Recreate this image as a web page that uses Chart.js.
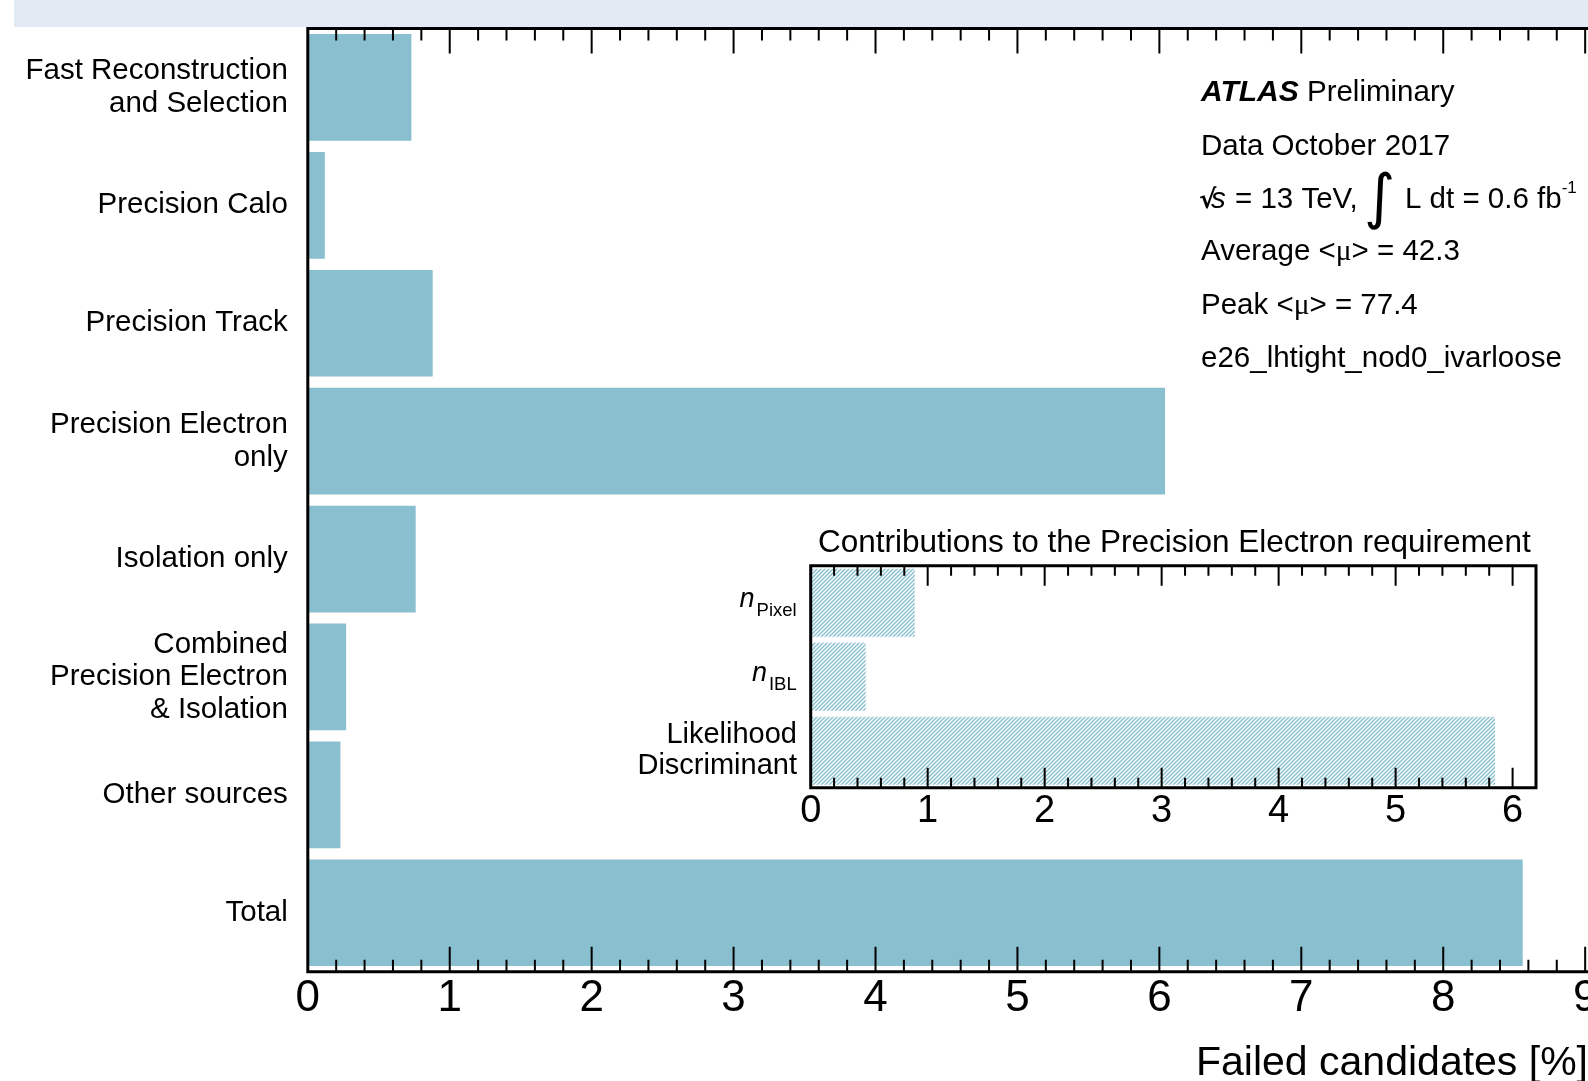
<!DOCTYPE html>
<html>
<head>
<meta charset="utf-8">
<title>Failed candidates</title>
<script src="https://cdn.jsdelivr.net/npm/chart.js@4.4.1/dist/chart.umd.min.js"></script>
<style>
  html, body { margin: 0; padding: 0; background: #fff; overflow: hidden; }
  #band { position: absolute; left: 14px; top: 0; width: 1574px; height: 27px; background: #e2eaf3; }
  #main { position: absolute; left: 0; top: 0; }
  #inset { position: absolute; left: 600px; top: 510px; }
</style>
</head>
<body>
<div id="band"></div>
<canvas id="main" width="1588" height="1081"></canvas>
<canvas id="inset" width="988" height="320"></canvas>
<script>
const categories = [
    ['Fast Reconstruction', 'and Selection'],
    'Precision Calo',
    'Precision Track',
    ['Precision Electron', 'only'],
    'Isolation only',
    ['Combined', 'Precision Electron', '& Isolation'],
    'Other sources',
    'Total',
];
const failedPct = [0.73, 0.12, 0.88, 6.04, 0.76, 0.27, 0.23, 8.56];

const insetCategories = ['nPixel', 'nIBL', ['Likelihood', 'Discriminant']];
const insetSubscripts = ['Pixel', 'IBL', null];
const insetPct = [0.89, 0.47, 5.85];

const xMax = 9.02;
const insetMax = 6.2;

const FONT = 'Liberation Sans';
const barColour = '#89bfcf';

// diagonal hatching for the inset bars
function makeHatch(colour) {
    const c = document.createElement('canvas');
    c.width = 4; c.height = 4;
    const g = c.getContext('2d');
    g.strokeStyle = colour;
    g.lineWidth = 1.5;
    g.beginPath();
    g.moveTo(0, 4); g.lineTo(4, 0);
    g.moveTo(-1, 1); g.lineTo(1, -1);
    g.moveTo(3, 5); g.lineTo(5, 3);
    g.stroke();
    return g.createPattern(c, 'repeat');
}

// ROOT style frame with inward major/minor ticks on top and bottom
const inwardTicks = {
    id: 'inwardTicks',
    afterDatasetsDraw(chart, args, o) {
        const {ctx, chartArea: a, scales: {x}} = chart;
        ctx.save();
        ctx.strokeStyle = '#000';
        ctx.lineWidth = o.width;
        ctx.beginPath();
        for (let i = 1; i * 0.2 < x.max - 1e-6; i++) {
            const px = x.getPixelForValue(i * 0.2);
            const len = i % 5 === 0 ? o.major : o.minor;
            ctx.moveTo(px, a.bottom); ctx.lineTo(px, a.bottom - len);
            ctx.moveTo(px, a.top); ctx.lineTo(px, a.top + len);
        }
        ctx.stroke();
        ctx.lineWidth = o.frame;
        ctx.beginPath();
        if (o.box) {
            ctx.rect(a.left, a.top, a.right - a.left, a.bottom - a.top);
        } else {
            ctx.moveTo(a.right + 5, a.top);
            ctx.lineTo(a.left, a.top);
            ctx.lineTo(a.left, a.bottom);
            ctx.lineTo(a.right + 5, a.bottom);
        }
        ctx.stroke();
        ctx.restore();
    }
};

function drawRuns(ctx, x, y, runs) {
    runs.forEach(r => {
        ctx.font = r.font;
        const xx = r.x !== undefined ? r.x : x;
        ctx.fillText(r.t, xx, y + (r.dy || 0));
        x = xx + ctx.measureText(r.t).width;
    });
}

const atlasLabel = {
    id: 'atlasLabel',
    afterDraw(chart) {
        const ctx = chart.ctx;
        const n = '29.5px ' + FONT;
        const x0 = 1201;
        ctx.save();
        ctx.fillStyle = '#000';
        ctx.textAlign = 'left';
        ctx.textBaseline = 'alphabetic';
        drawRuns(ctx, x0, 101, [{t: 'ATLAS', font: 'italic bold 30px ' + FONT}, {t: ' Preliminary', font: n}]);
        drawRuns(ctx, x0, 155, [{t: 'Data October 2017', font: n}]);
        drawRuns(ctx, x0, 208, [
            {t: '\u221A', font: 'bold 26px DejaVu Sans', x: 1199},
            {t: 's', font: 'italic 29.5px ' + FONT, x: 1211},
            {t: '= 13 TeV,', font: n, x: 1235},
            {t: '\u222B', font: '60px DejaVu Sans', x: 1364, dy: 9},
            {t: 'L dt = 0.6 fb', font: n, x: 1405},
            {t: '-1', font: '17px ' + FONT, dy: -15},
        ]);
        drawRuns(ctx, x0, 260, [{t: 'Average <', font: n}, {t: '\u03BC', font: '29.5px Liberation Serif'}, {t: '> = 42.3', font: n}]);
        drawRuns(ctx, x0, 314, [{t: 'Peak <', font: n}, {t: '\u03BC', font: '29.5px Liberation Serif'}, {t: '> = 77.4', font: n}]);
        drawRuns(ctx, x0, 367, [{t: 'e26_lhtight_nod0_ivarloose', font: n}]);
        ctx.restore();
    }
};

const insetLabels = {
    id: 'insetLabels',
    afterDraw(chart) {
        const {ctx, chartArea: a, scales: {y}} = chart;
        ctx.save();
        ctx.fillStyle = '#000';
        ctx.textBaseline = 'alphabetic';
        // title above the box
        ctx.textAlign = 'center';
        ctx.font = '31.5px ' + FONT;
        ctx.fillText('Contributions to the Precision Electron requirement', (a.left + a.right) / 2 + 1, a.top - 13.7);
        // n with subscripts
        ctx.textAlign = 'right';
        const right = a.left - 14;
        insetSubscripts.forEach((sub, i) => {
            if (!sub) return;
            const cy = y.getPixelForTick(i);
            ctx.font = '18.5px ' + FONT;
            const w = ctx.measureText(sub).width;
            ctx.fillText(sub, right, cy + 13);
            ctx.font = 'italic 27px ' + FONT;
            ctx.fillText('n', right - w - 2, cy + 4);
        });
        ctx.restore();
    }
};

// keep the plot frame where it is in the reference: no extra label padding
function noPad(s) {
    s.paddingTop = 0; s.paddingBottom = 0;
    s.paddingLeft = 0; s.paddingRight = 0;
}

const ctx = document.getElementById('main').getContext('2d');
const mainChart = new Chart(ctx, {
    type: 'bar',
    data: {
        labels: categories,
        datasets: [{
            data: failedPct,
            backgroundColor: barColour,
            borderWidth: 0,
            categoryPercentage: 1,
            barPercentage: 0.905
        }]
    },
    options: {
        indexAxis: 'y',
        responsive: false,
        animation: false,
        layout: { padding: { top: 28.5, left: 0, right: 0, bottom: 0 } },
        plugins: {
            legend: { display: false },
            tooltip: { enabled: false },
            inwardTicks: { major: 25, minor: 12, width: 2, frame: 3, box: false }
        },
        scales: {
            x: {
                min: 0,
                max: xMax,
                grid: { display: false, drawTicks: false },
                border: { display: false },
                ticks: {
                    stepSize: 1,
                    includeBounds: false,
                    autoSkip: false,
                    maxRotation: 0,
                    padding: 5,
                    color: '#000',
                    font: { family: FONT, size: 44, lineHeight: 1 },
                    callback: v => Number.isInteger(v) ? v : ''
                },
                title: {
                    display: true,
                    text: 'Failed candidates [%]',
                    align: 'end',
                    color: '#000',
                    font: { family: FONT, size: 41, lineHeight: 1 },
                    padding: { top: 0, bottom: -3 }
                },
                afterFit: s => { s.height = 109.3; noPad(s); }
            },
            y: {
                grid: { display: false, drawTicks: false },
                border: { display: false },
                ticks: {
                    autoSkip: false,
                    padding: 20,
                    color: '#000',
                    font: { family: FONT, size: 29.5, lineHeight: 1.1 }
                },
                afterFit: s => { s.width = 307.8; noPad(s); }
            }
        }
    },
    plugins: [inwardTicks, atlasLabel]
});

const ictx = document.getElementById('inset').getContext('2d');
const insetChart = new Chart(ictx, {
    type: 'bar',
    data: {
        labels: insetCategories,
        datasets: [{
            data: insetPct,
            backgroundColor: makeHatch(barColour),
            borderWidth: 0,
            categoryPercentage: 1,
            barPercentage: 0.92
        }]
    },
    options: {
        indexAxis: 'y',
        responsive: false,
        animation: false,
        layout: { padding: { top: 55.7, left: 0, right: 52, bottom: 0 } },
        plugins: {
            legend: { display: false },
            tooltip: { enabled: false },
            inwardTicks: { major: 20, minor: 10, width: 2, frame: 3, box: true }
        },
        scales: {
            x: {
                min: 0,
                max: insetMax,
                grid: { display: false, drawTicks: false },
                border: { display: false },
                ticks: {
                    stepSize: 1,
                    includeBounds: false,
                    autoSkip: false,
                    maxRotation: 0,
                    padding: 5,
                    color: '#000',
                    font: { family: FONT, size: 38, lineHeight: 1 },
                    callback: v => Number.isInteger(v) ? v : ''
                },
                afterFit: s => { s.height = 42.3; noPad(s); }
            },
            y: {
                grid: { display: false, drawTicks: false },
                border: { display: false },
                ticks: {
                    autoSkip: false,
                    padding: 13.7,
                    color: '#000',
                    font: { family: FONT, size: 29, lineHeight: 1.05 },
                    callback: (v, i) => insetSubscripts[i] ? '' : insetCategories[i]
                },
                afterFit: s => { s.width = 210.7; noPad(s); }
            }
        }
    },
    plugins: [inwardTicks, insetLabels]
});
</script>
</body>
</html>
